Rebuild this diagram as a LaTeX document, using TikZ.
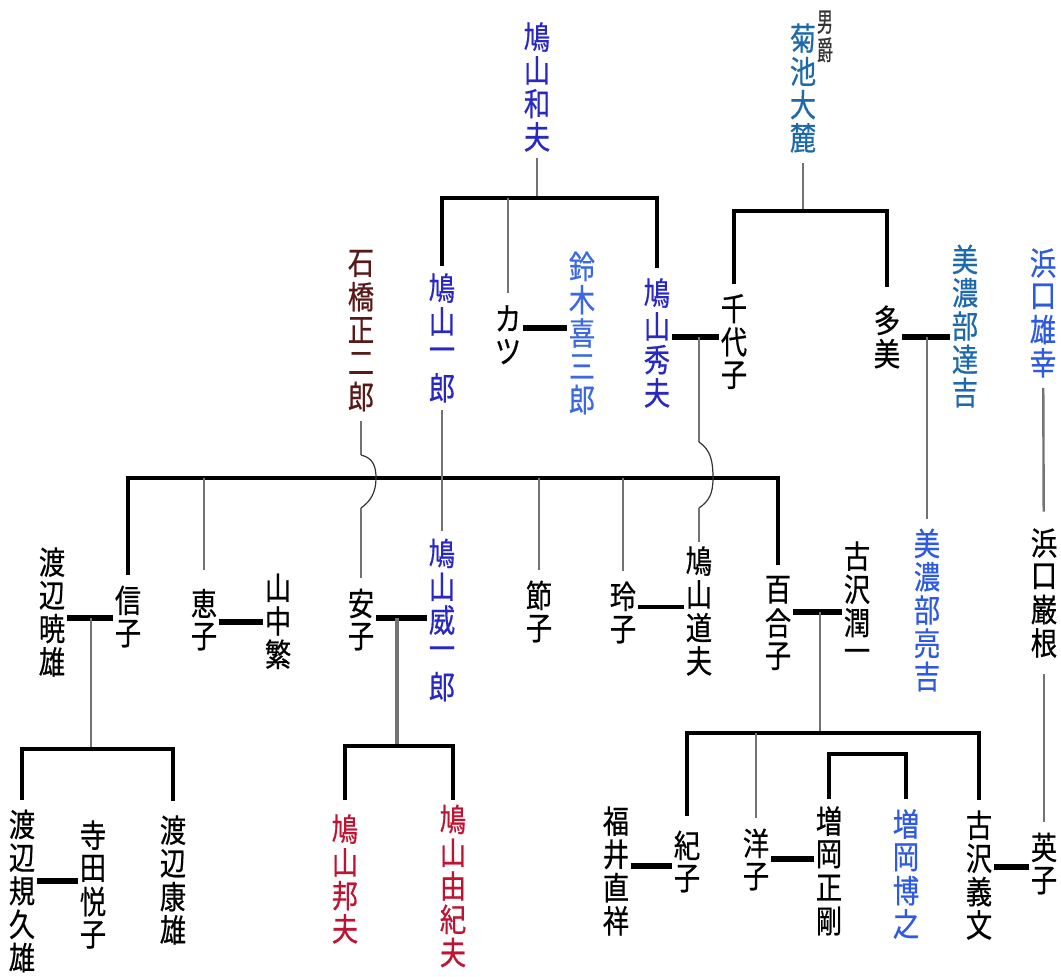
\documentclass[tikz,border=0pt]{standalone}
\usepackage{graphicx}
\usepackage{fontspec}
\setmainfont{Noto Sans CJK JP}[FakeBold=0.6]
\definecolor{hatoyama}{RGB}{40,40,195}
\definecolor{suzukiblue}{RGB}{60,105,225}
\definecolor{kikuchiblue}{RGB}{30,105,170}
\definecolor{brightblue}{RGB}{45,90,225}
\definecolor{ishibashibrown}{RGB}{90,25,25}
\definecolor{kunired}{RGB}{190,20,50}
\definecolor{linegray}{RGB}{115,115,115}
\makeatletter
\newcommand\tatescale{.82}
\newcommand\tate[1]{\vbox{\offinterlineskip
  \@tfor\tate@c:=#1\do{\vbox to 1.04em{\vss\hbox to \tatescale em{\hss\scalebox{\tatescale}[1]{\tate@c}\hss}\vss}}}}
\makeatother
\begin{document}
\begin{tikzpicture}[x=0.75pt, y=-0.75pt,
    person/.style={inner xsep=1.5pt, inner ysep=6pt, font=\fontsize{24}{25}\selectfont},
    kin/.style={line width=2.3pt},
    spouse/.style={line width=4pt},
    link/.style={draw=linegray, line width=1.8pt},
    hump/.style={draw=black!80, line width=0.9pt}]
      \useasboundingbox (0,0) rectangle (1061,977);

      \node [person, hatoyama, inner ysep=3pt] (kazuo) at (537,87) {\tate{鳩山和夫}};
      \node [person, text=black!80, font=\fontsize{20}{20}\selectfont\def\tatescale{.6}] (baron) at (825,36) {\tate{男爵}};
      \node [person, kikuchiblue] (kikuchi) at (803,88) {\tate{菊池大麓}};
      \node [person, ishibashibrown] (ishibashi) at (361,330) {\tate{石橋正二郎}};
      \node [person, hatoyama, inner ysep=4pt] (ichiro) at (442,338) {\tate{鳩山一郎}};
      \node [person] (katsu) at (508,335) {\tate{カツ}};
      \node [person, suzukiblue] (suzuki) at (582,333) {\tate{鈴木喜三郎}};
      \node [person, hatoyama] (hideo) at (657,343) {\tate{鳩山秀夫}};
      \node [person] (chiyoko) at (734,342) {\tate{千代子}};
      \node [person, inner ysep=12pt] (tami) at (887,337) {\tate{多美}};
      \node [person, kikuchiblue] (tatsukichi) at (965,326) {\tate{美濃部達吉}};
      \node [person, brightblue] (osachi) at (1043,313) {\tate{浜口雄幸}};

      \node [person] (akeo) at (52,612) {\tate{渡辺暁雄}};
      \node [person] (nobuko) at (128,617) {\tate{信子}};
      \node [person, inner ysep=12pt] (keiko) at (204,620) {\tate{恵子}};
      \node [person] (shigeru) at (278,621) {\tate{山中繁}};
      \node [person] (yasuko) at (361,620) {\tate{安子}};
      \node [person, hatoyama, inner ysep=4pt] (iichiro) at (442,620) {\tate{鳩山威一郎}};
      \node [person] (setsuko) at (539,612) {\tate{節子}};
      \node [person] (reiko) at (623,613) {\tate{玲子}};
      \node [person, inner ysep=2pt] (michio) at (699,611) {\tate{鳩山道夫}};
      \node [person] (yuriko) at (778,623) {\tate{百合子}};
      \node [person] (junichi) at (857,606) {\tate{古沢潤一}};
      \node [person, brightblue] (ryokichi) at (927,610) {\tate{美濃部亮吉}};
      \node [person, inner ysep=11pt] (iwane) at (1044,593) {\tate{浜口巌根}};

      \node [person] (kikuo) at (22,891) {\tate{渡辺規久雄}};
      \node [person] (etsuko) at (93,885) {\tate{寺田悦子}};
      \node [person, inner ysep=9pt] (yasuo) at (173,880) {\tate{渡辺康雄}};
      \node [person, kunired, inner ysep=9pt] (kunio) at (345,879) {\tate{鳩山邦夫}};
      \node [person, kunired, inner ysep=2pt] (yukio) at (453,886) {\tate{鳩山由紀夫}};
      \node [person] (naoyoshi) at (616,871) {\tate{福井直祥}};
      \node [person, inner ysep=9pt] (noriko) at (687,862) {\tate{紀子}};
      \node [person] (yoko) at (756,860) {\tate{洋子}};
      \node [person, inner ysep=4pt] (masatake) at (829,871) {\tate{増岡正剛}};
      \node [person, brightblue] (hiroyuki) at (906,874) {\tate{増岡博之}};
      \node [person] (yoshifumi) at (979,875) {\tate{古沢義文}};
      \node [person] (eiko) at (1044,864) {\tate{英子}};

      \coordinate (k1) at (537,198);
      \coordinate (k2) at (803,211);
      \coordinate (k3) at (442,478);
      \coordinate (k4) at (91,749);
      \coordinate (k5) at (397,746);
      \coordinate (k6) at (820,733);
      \coordinate (k7) at (867,754);
      \coordinate (m1) at (542,328);
      \coordinate (m2) at (699,337);
      \coordinate (m3) at (927,337);
      \coordinate (m4) at (91,618);
      \coordinate (m5) at (242,622);
      \coordinate (m6) at (397,618);
      \coordinate (m7) at (660,607);
      \coordinate (m8) at (820,612);
      \coordinate (m9) at (57,881);
      \coordinate (m10) at (650,866);
      \coordinate (m11) at (792,859);
      \coordinate (m12) at (1012,867);
      \coordinate (h1) at (361,455);
      \coordinate (h2) at (361,508);
      \coordinate (h3) at (699,442);
      \coordinate (h4) at (699,508);

      \draw [link] (kazuo) -- (k1);
      \draw [kin] (ichiro) -- (ichiro |- k1) -- (hideo |- k1) -- (hideo);
      \draw [link] (katsu |- k1) -- (katsu);
      \draw [link] (kikuchi) -- (k2);
      \draw [kin] (chiyoko) -- (chiyoko |- k2) -- (tami |- k2) -- (tami);

      \draw [spouse] (katsu.east |- m1) -- (suzuki.west |- m1);
      \draw [spouse] (hideo.east |- m2) -- (chiyoko.west |- m2);
      \draw [spouse] (tami.east |- m3) -- (tatsukichi.west |- m3);
      \draw [link] (m3) -- (ryokichi);
      \draw [link] (osachi) -- (iwane);
      \draw [link] (iwane) -- (eiko);

      \draw [kin] (nobuko) -- (nobuko |- k3) -- (yuriko |- k3) -- (yuriko);
      \draw [link] (ichiro) -- (iichiro);
      \foreach \c in {keiko, setsuko, reiko}
        \draw [link] (\c |- k3) -- (\c);
      \draw [link] (ishibashi) -- (h1);
      \draw [hump] (h1) .. controls (374,458) and (376,468) .. (376,478) .. controls (376,492) and (371,501) .. (h2);
      \draw [link] (h2) -- (yasuko);
      \draw [link] (m2) -- (h3);
      \draw [hump] (h3) .. controls (711,450) and (713,462) .. (713,478) .. controls (713,494) and (709,501) .. (h4);
      \draw [link] (h4) -- (michio);

      \draw [spouse] (akeo.east |- m4) -- (nobuko.west |- m4);
      \draw [link] (m4) -- (k4);
      \draw [kin] (kikuo) -- (kikuo |- k4) -- (yasuo |- k4) -- (yasuo);
      \draw [spouse] (keiko.east |- m5) -- (shigeru.west |- m5);
      \draw [spouse] (yasuko.east |- m6) -- (iichiro.west |- m6);
      \draw [link, line width=2.4pt] (m6) -- (k5);
      \draw [kin] (kunio) -- (kunio |- k5) -- (yukio |- k5) -- (yukio);
      \draw [spouse, line width=3pt] (reiko.east |- m7) -- (michio.west |- m7);
      \draw [spouse] (yuriko.east |- m8) -- (junichi.west |- m8);
      \draw [link] (m8) -- (k6);
      \draw [kin] (noriko) -- (noriko |- k6) -- (yoshifumi |- k6) -- (yoshifumi);
      \draw [link] (yoko |- k6) -- (yoko);
      \draw [kin] (masatake) -- (masatake |- k7) -- (hiroyuki |- k7) -- (hiroyuki);

      \draw [spouse] (kikuo.east |- m9) -- (etsuko.west |- m9);
      \draw [spouse] (naoyoshi.east |- m10) -- (noriko.west |- m10);
      \draw [spouse] (yoko.east |- m11) -- (masatake.west |- m11);
      \draw [spouse] (yoshifumi.east |- m12) -- (eiko.west |- m12);
\end{tikzpicture}
\end{document}
